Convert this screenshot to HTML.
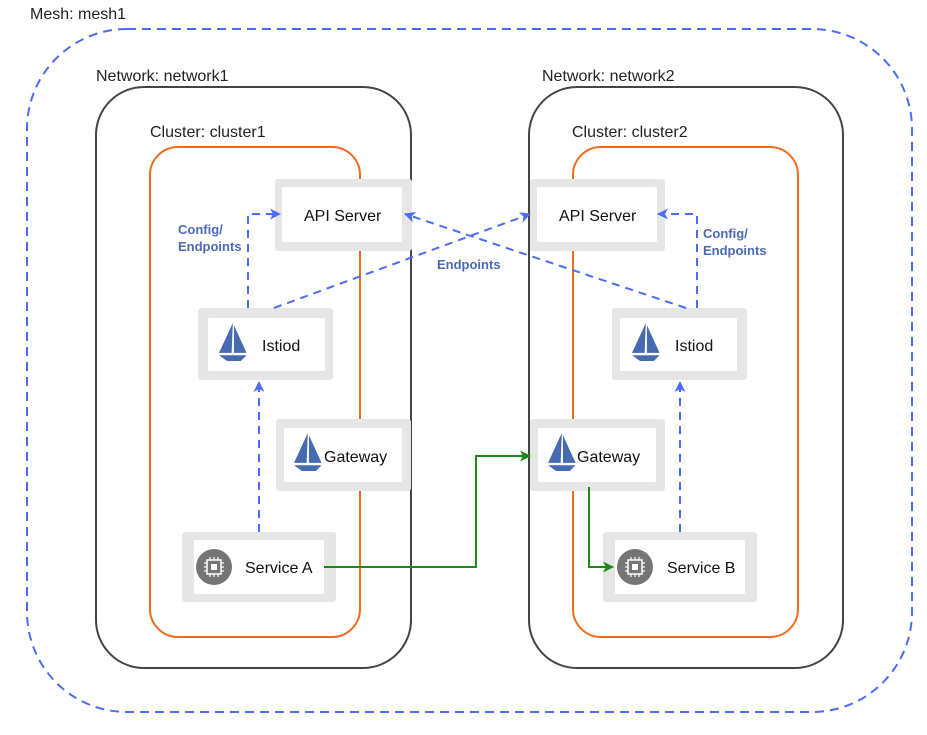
<!DOCTYPE html>
<html><head><meta charset="utf-8"><style>
html,body{margin:0;padding:0;background:#fff}
svg{display:block}
text{font-family:"Liberation Sans",sans-serif}
</style></head><body>
<svg width="927" height="735" viewBox="0 0 927 735" xmlns="http://www.w3.org/2000/svg">
<defs>
<marker id="ab" markerWidth="11" markerHeight="11" refX="10" refY="5.5" orient="auto" markerUnits="userSpaceOnUse"><path d="M0,0 L11,5.5 L0,11 L3,5.5 z" fill="#4d6cf5"/></marker>
<marker id="ag" markerWidth="11" markerHeight="11" refX="10" refY="5.5" orient="auto" markerUnits="userSpaceOnUse"><path d="M0,0 L11,5.5 L0,11 L3,5.5 z" fill="#1a8a1a"/></marker>
<g id="sail"><g transform="scale(1.15)"><path d="M12,0 L0,26 L11,26 Z M13,2 L13,26 L24,26 Z" fill="#466bb0"/><path d="M0,28 L24,28 L19,33 L7,33 Z" fill="#466bb0"/></g></g>
<g id="chip"><circle cx="0" cy="0" r="18" fill="#757575"/><rect x="-7" y="-7" width="14" height="14" fill="none" stroke="#fff" stroke-width="1.5"/><rect x="-3" y="-3" width="6" height="6" fill="#fff"/><path d="M-4,-7v-3M0,-7v-3M4,-7v-3M-4,7v3M0,7v3M4,7v3M-7,-4h-3M-7,0h-3M-7,4h-3M7,-4h3M7,0h3M7,4h3" stroke="#fff" stroke-width="1.2"/></g>
</defs>
<text x="30" y="19" font-size="16" fill="#222">Mesh: mesh1</text>
<rect x="27" y="29" width="885" height="683" rx="100" fill="none" stroke="#4d6cf5" stroke-width="2" stroke-dasharray="9,6"/>
<text x="96" y="81" font-size="16" fill="#222">Network: network1</text>
<text x="542" y="81" font-size="16" fill="#222">Network: network2</text>
<rect x="96" y="87" width="315" height="581" rx="48" fill="none" stroke="#444" stroke-width="2"/>
<rect x="529" y="87" width="314" height="581" rx="48" fill="none" stroke="#444" stroke-width="2"/>
<text x="150" y="137" font-size="16" fill="#222">Cluster: cluster1</text>
<text x="572" y="137" font-size="16" fill="#222">Cluster: cluster2</text>
<rect x="150" y="147" width="210" height="490" rx="28" fill="none" stroke="#f26b1d" stroke-width="2"/>
<rect x="573" y="147" width="225" height="490" rx="28" fill="none" stroke="#f26b1d" stroke-width="2"/>
<g fill="#e6e6e6">
<rect x="275" y="179" width="137" height="72" rx="3"/>
<rect x="198" y="308" width="135" height="72" rx="3"/>
<rect x="276" y="419" width="135" height="72" rx="3"/>
<rect x="182" y="532" width="154" height="70" rx="3"/>
<rect x="530" y="179" width="135" height="72" rx="3"/>
<rect x="612" y="308" width="135" height="72" rx="3"/>
<rect x="530" y="419" width="135" height="72" rx="3"/>
<rect x="603" y="532" width="154" height="70" rx="3"/>
</g>
<g fill="#fff">
<rect x="282" y="187" width="120" height="55" rx="2"/>
<rect x="208" y="318" width="117" height="53" rx="2"/>
<rect x="284" y="428" width="118" height="54" rx="2"/>
<rect x="194" y="540" width="130" height="54" rx="2"/>
<rect x="537" y="187" width="120" height="55" rx="2"/>
<rect x="620" y="318" width="117" height="53" rx="2"/>
<rect x="538" y="428" width="118" height="54" rx="2"/>
<rect x="615" y="540" width="130" height="54" rx="2"/>
</g>
<g font-size="16" fill="#111">
<text x="304" y="221">API Server</text>
<text x="559" y="221">API Server</text>
<text x="262" y="351">Istiod</text>
<text x="675" y="351">Istiod</text>
<text x="324" y="462">Gateway</text>
<text x="577" y="462">Gateway</text>
<text x="245" y="573">Service A</text>
<text x="667" y="573">Service B</text>
</g>
<use href="#sail" x="219" y="323"/>
<use href="#sail" x="632" y="323"/>
<use href="#sail" x="294" y="433"/>
<use href="#sail" x="548" y="433"/>
<use href="#chip" x="214" y="567"/>
<use href="#chip" x="635" y="567"/>
<g fill="none" stroke="#4d6cf5" stroke-width="2" stroke-dasharray="8,6">
<path d="M248,308 V214 H280" marker-end="url(#ab)"/>
<path d="M274,308 L530,214" marker-end="url(#ab)"/>
<path d="M686,308 L405,214" marker-end="url(#ab)"/>
<path d="M697,308 V214 H658" marker-end="url(#ab)"/>
<path d="M259,532 V382" marker-end="url(#ab)"/>
<path d="M680,532 V382" marker-end="url(#ab)"/>
</g>
<g font-size="13" font-weight="bold" fill="#4a6ab5">
<text x="178" y="234">Config/</text>
<text x="178" y="251">Endpoints</text>
<text x="703" y="238">Config/</text>
<text x="703" y="255">Endpoints</text>
<text x="437" y="269">Endpoints</text>
</g>
<g fill="none" stroke="#1a8a1a" stroke-width="2">
<path d="M324,567 H476 V456 H530" marker-end="url(#ag)"/>
<path d="M589,487 V567 H613" marker-end="url(#ag)"/>
</g>
</svg>
</body></html>
